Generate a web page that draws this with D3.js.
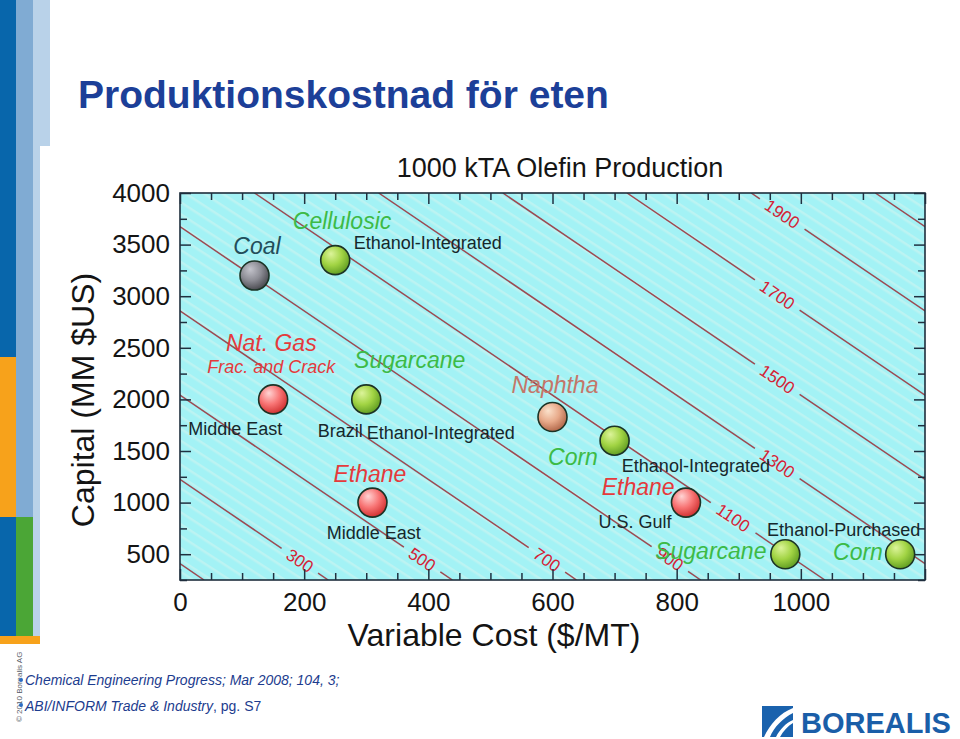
<!DOCTYPE html>
<html>
<head>
<meta charset="utf-8">
<script src="https://cdn.jsdelivr.net/npm/d3@7"></script>
<style>
  body { margin: 0; background: #fff; }
  svg { display: block; font-family: "Liberation Sans", Arial, sans-serif; }
</style>
</head>
<body>
<script>
// Production cost of ethylene, 1000 kTA plant

// feedstock routes (one entry per bubble)
var routes = ["Coal", "Cellulosic", "Nat. Gas ME", "Sugarcane Brazil", "Ethane ME",
              "Naphtha", "Corn integrated", "Ethane US Gulf", "Sugarcane purchased", "Corn purchased"];
var variableCost = [120, 250, 150, 300, 310, 600, 700, 815, 975, 1160];   // $/MT
var capitalCost  = [3200, 3350, 2000, 2000, 1000, 1830, 1600, 1000, 500, 500]; // MM $US
var feedType     = ["coal", "bio", "gas", "bio", "gas", "naphtha", "bio", "gas", "bio", "bio"];

// iso-cost lines: total cost = variable + capitalCharge * capital
var costLevels = [100, 300, 500, 700, 900, 1100, 1300, 1500, 1700, 1900, 2100];
var labelledLevels = [300, 500, 700, 900, 1100, 1300, 1500, 1700, 1900];
var capitalCharge = 0.245;

// axis ticks
var xTicks = [0, 200, 400, 600, 800, 1000];
var yTicks = [500, 1000, 1500, 2000, 2500, 3000, 3500, 4000];

// text around the bubbles
var noteText = ["Coal", "Cellulosic", "Ethanol-Integrated", "Nat. Gas", "Frac. and Crack", "Middle East",
                "Sugarcane", "Brazil", "Ethanol-Integrated", "Ethane", "Middle East", "Naphtha",
                "Corn", "Ethanol-Integrated", "Ethane", "U.S. Gulf", "Ethanol-Purchased", "Sugarcane", "Corn"];
var noteKind = ["coal", "bio", "site", "gas", "gasSub", "site", "bio", "site", "site", "gas", "site", "naphtha",
                "bio", "site", "gas", "site", "site", "bio", "bio"];

// ---- layout (not data) ----
var notePos = [[124, 3486], [261, 3729], [399, 3516], [147, 2547], [147, 2314], [89, 1713],
               [370, 2382], [258, 1694], [420, 1674], [306, 1277], [312, 705], [604, 2140],
               [633, 1442], [831, 1355], [738, 1151], [733, 812], [1069, 738], [855, 530], [1092, 522]];
var levelLabelAt = {300: 193, 500: 390, 700: 591, 900: 789, 1100: 891, 1300: 962, 1500: 962, 1700: 962, 1900: 970};

var noteStyle = {
  coal:    {fill: "#234d5a", size: 23, italic: true},
  bio:     {fill: "#3dba46", size: 23, italic: true},
  gas:     {fill: "#e43a3c", size: 23, italic: true},
  gasSub:  {fill: "#e43a3c", size: 18, italic: true},
  naphtha: {fill: "#c47669", size: 23, italic: true},
  site:    {fill: "#16272b", size: 18, italic: false}
};
var bubbleFill = {
  coal:    ["#c4c4cc", "#8c8c94", "#4c4c52"],
  bio:     ["#dcf49a", "#a2d444", "#64a024"],
  gas:     ["#ffd4d4", "#f87474", "#d23434"],
  naphtha: ["#fbe2cc", "#e8aa8a", "#b46a4c"]
};

var W = 960, H = 739;
var svg = d3.select("body").append("svg")
    .attr("width", W)
    .attr("height", H);
var defs = svg.append("defs");

// ---- slide decoration ----
svg.append("rect").attr("x", 33).attr("y", 0).attr("width", 17).attr("height", 146).attr("fill", "#b9d2e9");
svg.append("rect").attr("x", 33).attr("y", 0).attr("width", 7).attr("height", 638).attr("fill", "#b9d2e9");
svg.append("rect").attr("x", 16).attr("y", 0).attr("width", 17).attr("height", 517).attr("fill", "#80abd3");
svg.append("rect").attr("x", 16).attr("y", 517).attr("width", 17).attr("height", 120).attr("fill", "#4ba636");
svg.append("rect").attr("x", 0).attr("y", 0).attr("width", 16).attr("height", 357).attr("fill", "#0866ab");
svg.append("rect").attr("x", 0).attr("y", 357).attr("width", 16).attr("height", 160).attr("fill", "#f7a21b");
svg.append("rect").attr("x", 0).attr("y", 517).attr("width", 16).attr("height", 120).attr("fill", "#0866ab");
svg.append("rect").attr("x", 0).attr("y", 636).attr("width", 40).attr("height", 8).attr("fill", "#f7a21b");

svg.append("text")
    .attr("x", 78).attr("y", 108)
    .attr("fill", "#1c3f98")
    .style("font-size", "39px").style("font-weight", "bold")
    .text("Produktionskostnad för eten");

// ---- chart ----
var x = d3.scaleLinear().domain([0, 1200]).range([180, 925]);
var y = d3.scaleLinear().domain([250, 4000]).range([580, 193]);

var pat = defs.append("pattern")
    .attr("id", "stripes")
    .attr("patternUnits", "userSpaceOnUse")
    .attr("width", 10).attr("height", 10)
    .attr("patternTransform", "rotate(33)");
pat.append("rect").attr("width", 10).attr("height", 10).attr("fill", "#a3f2f5");
pat.append("rect").attr("width", 10).attr("height", 2.5).attr("fill", "#bcf3f2");

defs.append("clipPath").attr("id", "plotClip")
  .append("rect")
    .attr("x", x(0)).attr("y", y(4000))
    .attr("width", x(1200) - x(0)).attr("height", y(250) - y(4000));

svg.append("rect")
    .attr("x", x(0)).attr("y", y(4000))
    .attr("width", x(1200) - x(0)).attr("height", y(250) - y(4000))
    .attr("fill", "url(#stripes)");

// iso-cost lines, broken where the value is written
var plot = svg.append("g").attr("clip-path", "url(#plotClip)");
var line = d3.line();
costLevels.forEach(function(c) {
  var p1 = [x(c - capitalCharge * 4000), y(4000)];
  var p2 = [x(c - capitalCharge * 250), y(250)];
  var dx = p2[0] - p1[0], dy = p2[1] - p1[1];
  var len = Math.sqrt(dx * dx + dy * dy);
  var ux = dx / len, uy = dy / len;
  var segs = [[p1, p2]];
  if (labelledLevels.indexOf(c) >= 0) {
    var lv = levelLabelAt[c];
    var L = [x(lv), y((c - lv) / capitalCharge)];
    var gap = String(c).length * 5 + 7;
    segs = [[p1, [L[0] - gap * ux, L[1] - gap * uy]], [[L[0] + gap * ux, L[1] + gap * uy], p2]];
    svg.append("text")
        .attr("transform", "translate(" + L[0] + "," + L[1] + ") rotate(" + (Math.atan2(dy, dx) * 180 / Math.PI) + ")")
        .attr("text-anchor", "middle")
        .attr("dy", "0.35em")
        .attr("fill", "#d42236")
        .style("font-size", "17px")
        .text(c);
  }
  segs.forEach(function(s) {
    plot.append("path")
        .attr("d", line(s))
        .attr("fill", "none")
        .attr("stroke", "#9c4a52")
        .attr("stroke-width", 1.5);
  });
});

// ticks pointing inwards on all four sides
var xMinor = d3.range(0, 1201, 50).filter(function(v) { return v % 200 !== 0; });
var yMinor = d3.range(250, 4001, 250).filter(function(v) { return v % 500 !== 0; });
var xMajorAll = d3.range(0, 1201, 200);

function inTicks(axis, tx, ty, vals, size) {
  var g = svg.append("g")
      .attr("transform", "translate(" + tx + "," + ty + ")")
      .call(axis.tickValues(vals).tickSize(size).tickFormat(""));
  g.select(".domain").remove();
  g.selectAll("line").attr("stroke", "#203040").attr("stroke-width", 1.5);
}
inTicks(d3.axisTop(x), 0, y(250), xMajorAll, 11);
inTicks(d3.axisTop(x), 0, y(250), xMinor, 7);
inTicks(d3.axisBottom(x), 0, y(4000), xMajorAll, 11);
inTicks(d3.axisBottom(x), 0, y(4000), xMinor, 7);
inTicks(d3.axisRight(y), x(0), 0, yTicks, 11);
inTicks(d3.axisRight(y), x(0), 0, yMinor, 7);
inTicks(d3.axisLeft(y), x(1200), 0, yTicks, 11);
inTicks(d3.axisLeft(y), x(1200), 0, yMinor, 7);

svg.append("rect")
    .attr("x", x(0)).attr("y", y(4000))
    .attr("width", x(1200) - x(0)).attr("height", y(250) - y(4000))
    .attr("fill", "none")
    .attr("stroke", "#1e2e3c")
    .attr("stroke-width", 1.6);

// tick labels
var gx = svg.append("g")
    .attr("transform", "translate(0," + y(250) + ")")
    .call(d3.axisBottom(x).tickValues(xTicks).tickFormat(d3.format("d")).tickSize(0).tickPadding(13));
var gy = svg.append("g")
    .attr("transform", "translate(" + x(0) + ",0)")
    .call(d3.axisLeft(y).tickValues(yTicks).tickFormat(d3.format("d")).tickSize(0).tickPadding(10));
[gx, gy].forEach(function(g) {
  g.select(".domain").remove();
  g.attr("font-family", null).attr("font-size", null);
  g.selectAll("text").attr("fill", "#141414").style("font-size", "26px");
});

// titles
svg.append("text")
    .attr("x", 560).attr("y", 177)
    .attr("text-anchor", "middle")
    .attr("fill", "#141414")
    .style("font-size", "27px")
    .text("1000 kTA Olefin Production");

svg.append("text")
    .attr("x", 494).attr("y", 646)
    .attr("text-anchor", "middle")
    .attr("fill", "#141414")
    .style("font-size", "32px")
    .text("Variable Cost ($/MT)");

svg.append("text")
    .attr("transform", "translate(94,400) rotate(-90)")
    .attr("text-anchor", "middle")
    .attr("fill", "#141414")
    .style("font-size", "32px")
    .text("Capital (MM $US)");

// annotations
noteText.forEach(function(t, i) {
  var st = noteStyle[noteKind[i]];
  svg.append("text")
      .attr("x", x(notePos[i][0]))
      .attr("y", y(notePos[i][1]))
      .attr("dy", "0.35em")
      .attr("text-anchor", "middle")
      .attr("fill", st.fill)
      .style("font-size", st.size + "px")
      .style("font-style", st.italic ? "italic" : "normal")
      .text(t);
});

// bubbles
Object.keys(bubbleFill).forEach(function(k) {
  var gr = defs.append("radialGradient")
      .attr("id", "grad-" + k)
      .attr("cx", "40%").attr("cy", "35%").attr("r", "65%")
      .attr("fx", "35%").attr("fy", "28%");
  gr.append("stop").attr("offset", "0%").attr("stop-color", bubbleFill[k][0]);
  gr.append("stop").attr("offset", "55%").attr("stop-color", bubbleFill[k][1]);
  gr.append("stop").attr("offset", "100%").attr("stop-color", bubbleFill[k][2]);
});

svg.selectAll("circle.route")
    .data(routes)
  .enter().append("circle")
    .attr("class", "route")
    .attr("cx", function(d, i) { return x(variableCost[i]); })
    .attr("cy", function(d, i) { return y(capitalCost[i]); })
    .attr("r", 14.5)
    .attr("fill", function(d, i) { return "url(#grad-" + feedType[i] + ")"; })
    .attr("stroke", "#1b3326")
    .attr("stroke-width", 1.6);

// ---- footer ----
svg.append("text")
    .attr("transform", "translate(22,722) rotate(-90)")
    .attr("fill", "#555a66")
    .style("font-size", "8px")
    .text("© 2010 Borealis AG");

svg.append("circle").attr("cx", 21).attr("cy", 680).attr("r", 2).attr("fill", "#2b6cc4");
svg.append("circle").attr("cx", 21).attr("cy", 705).attr("r", 2).attr("fill", "#2b6cc4");

svg.append("text")
    .attr("x", 25).attr("y", 685)
    .attr("fill", "#1c3c8e")
    .style("font-size", "14px").style("font-style", "italic")
    .text("Chemical Engineering Progress; Mar 2008; 104, 3;");

var src2 = svg.append("text")
    .attr("x", 25).attr("y", 711)
    .attr("fill", "#1c3c8e")
    .style("font-size", "14px");
src2.append("tspan").style("font-style", "italic").text("ABI/INFORM Trade & Industry");
src2.append("tspan").text(", pg. S7");

// logo
svg.append("rect").attr("x", 762).attr("y", 706).attr("width", 31).attr("height", 31).attr("fill", "#1a62ad");
svg.append("path")
    .attr("d", "M764,737 C770,724 780,713 793,708 L793,713 C783,718 774,727 770,737 Z")
    .attr("fill", "#fff");
svg.append("path")
    .attr("d", "M776,737 C780,729 786,723 793,720 L793,723 C788,726 783,731 780,737 Z")
    .attr("fill", "#fff");
svg.append("text")
    .attr("x", 801).attr("y", 733)
    .attr("fill", "#1a5ea8")
    .style("font-size", "29px").style("font-weight", "bold")
    .text("BOREALIS");
</script>
</body>
</html>
